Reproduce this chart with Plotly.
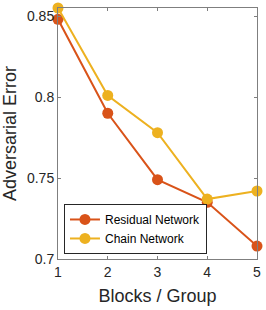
import plotly.graph_objects as go

blocks = [1, 2, 3, 4, 5]
residual = [0.848, 0.790, 0.749, 0.735, 0.708]
chain = [0.855, 0.801, 0.778, 0.737, 0.742]
yticks = [0.7, 0.75, 0.8, 0.85]
yticktext = ["0.7", "0.75", "0.8", "0.85"]

FONT = "Liberation Sans, Arial"

fig = go.Figure()
fig.add_trace(go.Scatter(x=blocks, y=residual, name="Residual Network", mode="lines+markers",
                         line=dict(color="#D95319", width=2), marker=dict(size=11, color="#D95319"),
                         cliponaxis=False))
fig.add_trace(go.Scatter(x=blocks, y=chain, name="Chain Network", mode="lines+markers",
                         line=dict(color="#EDB120", width=2), marker=dict(size=11, color="#EDB120"),
                         cliponaxis=False))

axis_common = dict(showgrid=False, zeroline=False, showline=True, linecolor="#7f7f7f", linewidth=1,
                   mirror="ticks", ticks="inside", ticklen=3, tickcolor="#7f7f7f", automargin=False,
                   tickfont=dict(family=FONT, size=14, color="#262626"))
fig.update_xaxes(range=[1, 5], tickvals=blocks, title=dict(text="Blocks / Group", standoff=10,
                 font=dict(family=FONT, size=18, color="#262626")), **axis_common)
fig.update_yaxes(range=[0.7, 0.855], tickvals=yticks, ticktext=yticktext,
                 title=dict(text="Adversarial Error", standoff=6,
                            font=dict(family=FONT, size=18, color="#262626")),
                 **axis_common)

fig.update_layout(width=266, height=310, margin=dict(l=58, r=9, t=8, b=51),
                  plot_bgcolor="white", paper_bgcolor="white",
                  legend=dict(x=0.03, y=0.02, xanchor="left", yanchor="bottom",
                              bgcolor="white", bordercolor="#262626", borderwidth=1,
                              font=dict(family=FONT, size=12, color="#000000"),
                              tracegroupgap=0, itemwidth=30))

fig.write_html("out.html", config={"displayModeBar": False},
               post_script="document.body.style.margin='0';document.body.style.padding='0';")
